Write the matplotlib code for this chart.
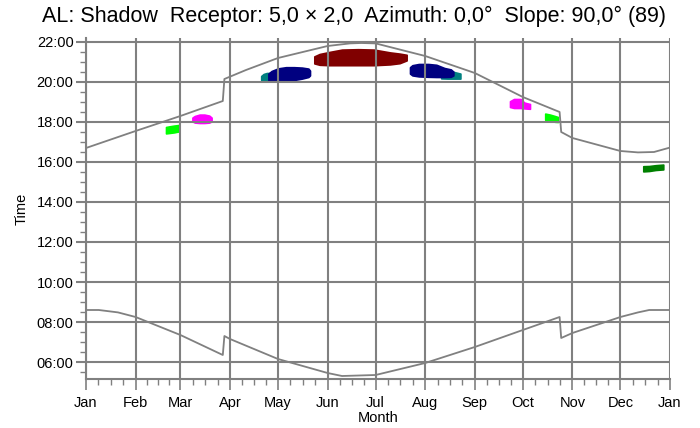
import matplotlib
matplotlib.use("Agg")
import matplotlib.pyplot as plt
from matplotlib.ticker import FixedLocator, MultipleLocator, FuncFormatter

plt.rcParams["font.family"] = ["Liberation Sans", "DejaVu Sans"]

# Month boundaries (day of year) and labels
month_days = [0, 31, 59, 90, 120, 151, 181, 212, 243, 273, 304, 334, 365]
month_labels = ["Jan", "Feb", "Mar", "Apr", "May", "Jun", "Jul",
                "Aug", "Sep", "Oct", "Nov", "Dec", "Jan"]

# Sunset (upper) and sunrise (lower) curves, hours of local clock time
sunset_day = [0, 31, 59, 85.5, 86.5, 100, 120, 151, 165, 172, 181, 212,
              243, 273, 296, 297, 304, 334, 345, 355, 364]
sunset_hour = [16.70, 17.55, 18.30, 19.05, 20.15, 20.60, 21.20, 21.80, 21.93,
               21.95, 21.93, 21.30, 20.45, 19.25, 18.50, 17.50, 17.20, 16.55,
               16.48, 16.50, 16.70]
sunrise_day = [0, 8, 20, 31, 59, 85.5, 86.5, 90, 120, 151, 160, 181, 212, 243,
               273, 296, 297, 304, 334, 345, 352, 364]
sunrise_hour = [8.60, 8.60, 8.48, 8.25, 7.35, 6.35, 7.30, 7.15, 6.15, 5.45,
                5.30, 5.35, 5.95, 6.75, 7.60, 8.25, 7.20, 7.45, 8.25, 8.48,
                8.60, 8.60]

# Shadow periods per source: day of year, start and end hour
lime1_day = [50, 52, 55, 58]
lime1_lo = [17.43, 17.45, 17.48, 17.53]
lime1_hi = [17.75, 17.78, 17.82, 17.85]

mag1_day = [66.5, 68, 71, 74, 77, 78.5]
mag1_lo = [18.03, 17.97, 17.95, 17.95, 17.97, 18.03]
mag1_hi = [18.22, 18.30, 18.37, 18.37, 18.32, 18.22]

teal1_day = [109.5, 111, 113, 115]
teal1_lo = [20.10, 20.10, 20.10, 20.10]
teal1_hi = [20.30, 20.40, 20.45, 20.45]

navy1_day = [114, 116, 120, 125, 130, 135, 139, 140]
navy1_lo = [20.10, 20.08, 20.08, 20.08, 20.10, 20.17, 20.25, 20.33]
navy1_hi = [20.42, 20.55, 20.68, 20.74, 20.74, 20.72, 20.67, 20.57]

red_day = [142.7, 146, 152, 160, 170, 180, 190, 196, 200.4]
red_lo = [20.93, 20.86, 20.84, 20.84, 20.84, 20.84, 20.88, 20.94, 21.08]
red_hi = [21.28, 21.40, 21.50, 21.62, 21.64, 21.62, 21.48, 21.42, 21.36]

navy2_day = [202.5, 204, 208, 214, 219, 224, 228, 229.6]
navy2_lo = [20.42, 20.33, 20.28, 20.26, 20.25, 20.25, 20.26, 20.33]
navy2_hi = [20.74, 20.84, 20.90, 20.90, 20.86, 20.70, 20.63, 20.52]

teal2_day = [222, 226, 230, 234]
teal2_lo = [20.18, 20.17, 20.17, 20.17]
teal2_hi = [20.56, 20.53, 20.50, 20.42]

mag2_day = [265, 267.5, 271.7, 274, 277.5]
mag2_lo = [18.75, 18.70, 18.70, 18.68, 18.66]
mag2_hi = [19.04, 19.15, 19.15, 18.97, 18.90]

lime2_day = [287, 290, 293, 295]
lime2_lo = [18.11, 18.06, 18.01, 18.00]
lime2_hi = [18.42, 18.37, 18.30, 18.25]

green_day = [348.3, 352, 356, 360.8]
green_lo = [15.53, 15.55, 15.60, 15.63]
green_hi = [15.79, 15.80, 15.84, 15.87]

shadow_periods = [
    (lime1_day, lime1_lo, lime1_hi, "#00ff00"),
    (mag1_day, mag1_lo, mag1_hi, "#ff00ff"),
    (teal1_day, teal1_lo, teal1_hi, "#008080"),
    (navy1_day, navy1_lo, navy1_hi, "#000080"),
    (red_day, red_lo, red_hi, "#800000"),
    (teal2_day, teal2_lo, teal2_hi, "#008080"),
    (navy2_day, navy2_lo, navy2_hi, "#000080"),
    (mag2_day, mag2_lo, mag2_hi, "#ff00ff"),
    (lime2_day, lime2_lo, lime2_hi, "#00ff00"),
    (green_day, green_lo, green_hi, "#008000"),
]

grey = "#808080"

fig = plt.figure(figsize=(7.0, 4.28), dpi=100)
ax = fig.add_axes([86 / 700, 1 - 379 / 428, (670 - 86) / 700, (379 - 38) / 428])

for d, lo, hi, c in shadow_periods:
    ax.fill_between(d, lo, hi, color=c, linewidth=1.2, edgecolor=c, zorder=1)

ax.plot(sunset_day, sunset_hour, color=grey, lw=1.3, zorder=3)
ax.plot(sunrise_day, sunrise_hour, color=grey, lw=1.3, zorder=3)

ax.set_xlim(0, 365)
ax.set_ylim(5.15, 22.2)

# x axis: months with quarter-month minor ticks
ax.xaxis.set_major_locator(FixedLocator(month_days))
ax.set_xticklabels(month_labels)
minor_x = []
for a, b in zip(month_days[:-1], month_days[1:]):
    minor_x += [a + (b - a) * k / 4 for k in (1, 2, 3)]
ax.xaxis.set_minor_locator(FixedLocator(minor_x))

# y axis: clock time every two hours, half-hour minor ticks
ax.yaxis.set_major_locator(MultipleLocator(2))
ax.yaxis.set_minor_locator(MultipleLocator(0.5))
ax.yaxis.set_major_formatter(FuncFormatter(lambda v, p: f"{int(round(v)):02d}:00"))

ax.set_axisbelow(False)
ax.grid(True, which="major", color=grey, lw=1.5, zorder=2.5)
for s in ("top", "right"):
    ax.spines[s].set_visible(False)
for s in ("left", "bottom"):
    ax.spines[s].set_color(grey)
    ax.spines[s].set_linewidth(1.5)

ax.tick_params(axis="x", which="major", length=8, width=1.2, color=grey,
               labelsize=10.5, pad=4)
ax.tick_params(axis="x", which="minor", length=4, width=1.0, color=grey)
ax.tick_params(axis="y", which="major", length=7, width=1.5, color=grey,
               labelsize=10.5, pad=2)
ax.tick_params(axis="y", which="minor", length=4, width=1.0, color=grey)

ax.set_xlabel("Month", fontsize=10.5, labelpad=1)
ax.set_ylabel("Time", fontsize=10.5, labelpad=6)

fig.text(354 / 700, 1 - 16 / 428,
         "AL: Shadow  Receptor: 5,0 × 2,0  Azimuth: 0,0°  Slope: 90,0° (89)",
         ha="center", va="center", fontsize=15.5)

fig.savefig("out.png", dpi=100)
